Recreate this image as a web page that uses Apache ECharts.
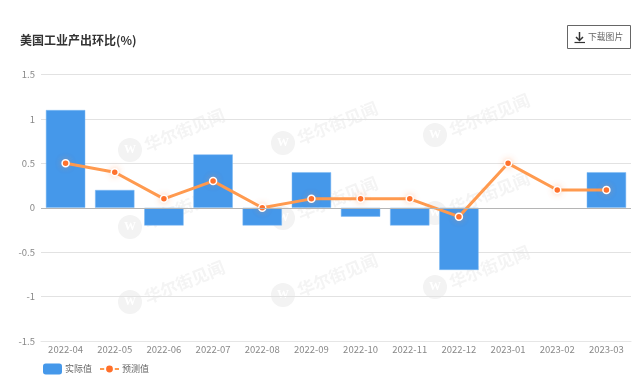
<!DOCTYPE html>
<html><head><meta charset="utf-8">
<style>html,body{margin:0;padding:0;background:#fff}#c{width:640px;height:376px}</style>
<script src="https://cdn.jsdelivr.net/npm/echarts@6/dist/echarts.min.js"></script>
</head><body><div id="c"></div>
<script>
const categories = ['2022-04','2022-05','2022-06','2022-07','2022-08','2022-09','2022-10','2022-11','2022-12','2023-01','2023-02','2023-03'];
const actual = [1.1,0.2,-0.2,0.6,-0.2,0.4,-0.1,-0.2,-0.7,null,null,0.4];
const forecast = [0.5,0.4,0.1,0.3,0,0.1,0.1,0.1,-0.1,0.5,0.2,0.2];
const titleText = '美国工业产出环比(%)';
const watermarkCentres = [[130,150],[283,143],[435,135],[130,227],[283,218],[435,213],[130,302],[283,295],[435,287]];
const FONT = '"Noto Sans CJK SC","Noto Sans",sans-serif';

const chart = echarts.init(document.getElementById('c'));
const wm = [];
watermarkCentres.forEach(([x,y])=>{
  wm.push({type:'circle',z:-1,silent:true,shape:{cx:x,cy:y,r:12},style:{fill:'#f3f3f3'}});
  wm.push({type:'text',z:-1,silent:true,x:x,y:y,style:{text:'W',fill:'#fff',font:'bold 12px "Liberation Serif"',align:'center',verticalAlign:'middle'}});
  wm.push({type:'text',z:-1,silent:true,x:x+15,y:y-4,rotation:22*Math.PI/180,originX:0,originY:0,
    style:{text:'华尔街见闻',fill:'#f4f4f4',font:'bold 17px "Noto Sans CJK SC"',align:'left',verticalAlign:'middle'}});
});
chart.setOption({
  animation:false,
  backgroundColor:'#fff',
  title:{text:titleText,left:20,top:34,padding:0,textStyle:{fontSize:12,fontWeight:'bold',color:'#333',fontFamily:FONT}},
  legend:{left:43,top:363.5,padding:0,itemGap:7,itemWidth:19,itemHeight:11,textStyle:{fontSize:9,color:'#666',fontFamily:FONT,padding:[0,0,0,-2]},
    data:[{name:'实际值',icon:'roundRect',itemStyle:{borderWidth:0}},{name:'预测值'}]},
  grid:{left:41,right:9,top:74.5,bottom:35,outerBoundsMode:'none'},
  xAxis:{type:'category',data:categories,axisTick:{show:false},
    axisLine:{onZero:false,lineStyle:{color:'#e6e6e6',width:1}},
    axisLabel:{color:'#888',fontSize:9.5,fontFamily:FONT,margin:4,interval:0}},
  yAxis:{type:'value',min:-1.5,max:1.5,interval:0.5,axisLine:{show:false},axisTick:{show:false},
    splitLine:{lineStyle:{color:'#e2e2e2'}},
    axisLabel:{color:'#888',fontSize:9.5,fontFamily:FONT,margin:6,padding:[0,0,3,0]}},
  graphic:wm.concat([
    {type:'rect',shape:{x:567.5,y:25.5,width:63,height:23},style:{fill:'#fff',stroke:'#666',lineWidth:1}},
    {type:'polyline',shape:{points:[[579.5,32],[579.5,40]]},style:{stroke:'#333',lineWidth:1.5,fill:null}},
    {type:'polyline',shape:{points:[[576,37],[579.5,40.5],[583,37]]},style:{stroke:'#333',lineWidth:1.5,fill:null}},
    {type:'polyline',shape:{points:[[574.5,42.5],[585,42.5]]},style:{stroke:'#333',lineWidth:1.2,fill:null}},
    {type:'text',x:588,y:37,style:{text:'下载图片',fill:'#666',font:'8.8px "Noto Sans CJK SC"',verticalAlign:'middle'}}
  ]),
  series:[
    {name:'实际值',type:'bar',data:actual,barWidth:'80%',itemStyle:{color:'#4598ea',borderColor:'#7cb8f2',borderWidth:0.5},
     markLine:{silent:true,symbol:'none',label:{show:false},lineStyle:{color:'#b5b5b5',width:1,type:'solid'},data:[{yAxis:0}]}},
    {name:'预测值',type:'line',data:forecast,symbol:'circle',symbolSize:7,showAllSymbol:true,
      lineStyle:{color:'#ff9a4f',width:3},
      itemStyle:{color:'#ff6f2a',borderColor:'#fff',borderWidth:1.5,shadowColor:'rgba(255,140,80,0.35)',shadowBlur:6}}
  ]
});
</script></body></html>
